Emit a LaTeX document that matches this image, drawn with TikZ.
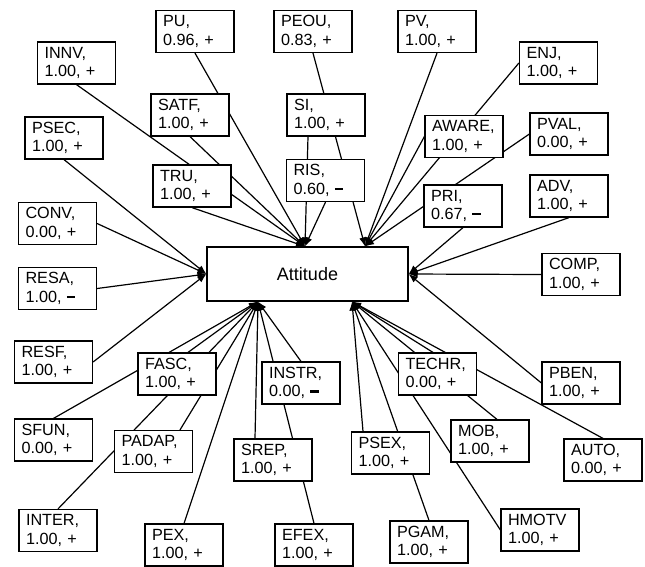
\documentclass[tikz,border=0pt]{standalone}
\usepackage{fontspec}
\setmainfont{Liberation Sans}
\usetikzlibrary{arrows.meta,backgrounds}
\newcommand\mns{\rule[0.27em]{0.5em}{0.14em}}
\begin{document}
\begin{tikzpicture}[x=1pt,y=-1pt,
  lbl/.style={draw, fill=white, line width=1.2pt, text width=64pt, inner xsep=7pt, inner ysep=0pt,
    minimum height=42pt, align=left, font=\fontsize{16.2}{18.5}\selectfont},
  link/.style={line width=1.2pt, -{Latex[length=9pt,width=7pt]}}]
\useasboundingbox (0,0) rectangle (645,566);

\node[draw, fill=white, line width=1.2pt, minimum width=201pt, minimum height=54pt, inner sep=0pt,
  font=\fontsize{18}{21}\selectfont] (att) at (307.5,274) {Attitude};
\coordinate (TL) at ([xshift=-2.5pt]att.north);
\coordinate (TR) at ([xshift=57.5pt]att.north);
\coordinate (BL) at ([xshift=-49.5pt]att.south);
\coordinate (BR) at ([xshift=44.5pt]att.south);

\node[lbl] (PU) at (195,31.5) {PU,\\0.96, +};
\node[lbl] (PEOU) at (313,31.5) {PEOU,\\0.83, +};
\node[lbl] (PV) at (437,31.5) {PV,\\1.00, +};
\node[lbl] (INNV) at (76.5,63) {INNV,\\1.00, +};
\node[lbl] (ENJ) at (558.5,63) {ENJ,\\1.00, +};
\node[lbl] (SATF) at (190,115) {SATF,\\1.00, +};
\node[lbl] (SI) at (326,115) {SI,\\1.00, +};
\node[lbl] (PSEC) at (64,138) {PSEC,\\1.00, +};
\node[lbl] (AWARE) at (464,136.5) {AWARE,\\1.00, +};
\node[lbl] (PVAL) at (569,134) {PVAL,\\0.00, +};
\node[lbl] (TRU) at (192,186) {TRU,\\1.00, +};
\node[lbl] (RIS) at (325.5,180.5) {RIS,\\0.60, \mns};
\node[lbl] (PRI) at (463,206) {PRI,\\0.67, \mns};
\node[lbl] (ADV) at (569,196) {ADV,\\1.00, +};
\node[lbl] (CONV) at (57.5,223.5) {CONV,\\0.00, +};
\node[lbl] (COMP) at (581,274.5) {COMP,\\1.00, +};
\node[lbl] (RESA) at (57.5,288.5) {RESA,\\1.00, \mns};
\node[lbl] (RESF) at (53.5,362) {RESF,\\1.00, +};
\node[lbl] (FASC) at (177,374) {FASC,\\1.00, +};
\node[lbl] (INSTR) at (301,383) {INSTR,\\0.00, \mns};
\node[lbl] (TECHR) at (437.5,374) {TECHR,\\0.00, +};
\node[lbl] (PBEN) at (581,383) {PBEN,\\1.00, +};
\node[lbl] (SFUN) at (53.5,440) {SFUN,\\0.00, +};
\node[lbl] (PADAP) at (153.5,451.5) {PADAP,\\1.00, +};
\node[lbl] (SREP) at (273,460) {SREP,\\1.00, +};
\node[lbl] (PSEX) at (390.5,453) {PSEX,\\1.00, +};
\node[lbl] (MOB) at (490,441) {MOB,\\1.00, +};
\node[lbl] (AUTO) at (603,460) {AUTO,\\0.00, +};
\node[lbl] (INTER) at (58,530.5) {INTER,\\1.00, +};
\node[lbl] (PEX) at (184,545) {PEX,\\1.00, +};
\node[lbl] (EFEX) at (314,545) {EFEX,\\1.00, +};
\node[lbl] (PGAM) at (429,542) {PGAM,\\1.00, +};
\node[lbl] (HMOTV) at (540,530) {HMOTV\\1.00, +};

\begin{scope}[on background layer]
% top-left group
\draw[link] (PU.south) -- (TL);
\draw[link] (INNV.south) -- (TL);
\draw[link] (SATF.south) -- (TL);
\draw[link] ([xshift=-18pt]SI.south) -- (TL);
\draw[link] (TRU.south) -- (TL);
\draw[link] (RIS.south) -- (TL);
% top-right group
\draw[link] (PEOU.south) -- (TR);
\draw[link] (PV.south) -- (TR);
\draw[link] (ENJ.west) -- (TR);
\draw[link] (AWARE.west) -- (TR);
\draw[link] (PVAL.west) -- (TR);
% left group
\draw[link] (PSEC.south) -- (att.west);
\draw[link] (CONV.east) -- (att.west);
\draw[link] (RESA.east) -- (att.west);
\draw[link] (RESF.east) -- (att.west);
% right group
\draw[link] (PRI.south) -- (att.east);
\draw[link] (ADV.south) -- (att.east);
\draw[link] (COMP.west) -- (att.east);
\draw[link] (PBEN.west) -- (att.east);
% bottom-left group
\draw[link] ([xshift=11pt]FASC.north) -- (BL);
\draw[link] (INSTR.north) -- (BL);
\draw[link] (SFUN.north) -- (BL);
\draw[link] ([xshift=26.5pt]PADAP.north) -- (BL);
\draw[link] ([xshift=-18pt]SREP.north) -- (BL);
\draw[link] (INTER.north) -- (BL);
\draw[link] (PEX.north) -- (BL);
\draw[link] (EFEX.north) -- (BL);
% bottom-right group
\draw[link] ([xshift=-4.5pt]TECHR.north) -- (BR);
\draw[link] ([xshift=-27.5pt]PSEX.north) -- (BR);
\draw[link] ([xshift=7pt]MOB.north) -- (BR);
\draw[link] (AUTO.north) -- (BR);
\draw[link] (PGAM.north) -- (BR);
\draw[link] (HMOTV.west) -- (BR);
\end{scope}
\end{tikzpicture}
\end{document}
